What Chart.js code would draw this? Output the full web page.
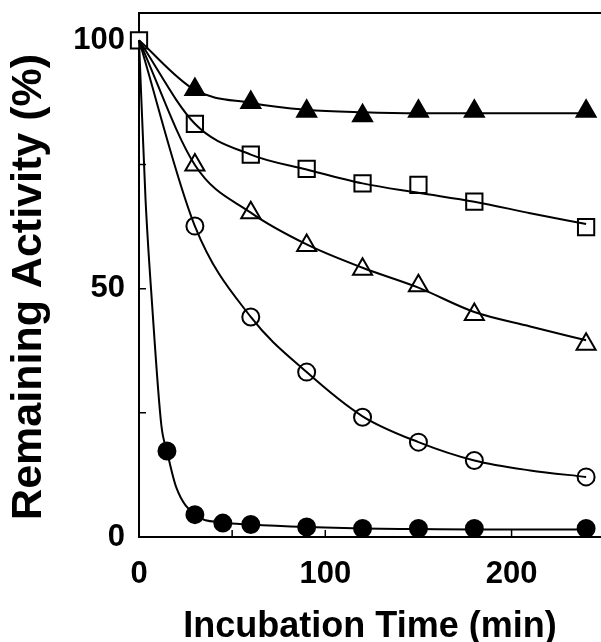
<!DOCTYPE html>
<html>
<head>
<meta charset="utf-8">
<script src="https://cdn.jsdelivr.net/npm/chart.js@4/dist/chart.umd.min.js"></script>
<style>
  html, body { margin: 0; padding: 0; background: #fff; overflow: hidden; }
  #wrap { width: 601px; height: 642px; }
  canvas { display: block; }
</style>
</head>
<body>
<div id="wrap"><canvas id="cv" width="601" height="642"></canvas></div>
<script>
const TIMES        = [0, 30, 60, 90, 120, 150, 180, 240];
const TIMES_FAST   = [0, 15, 30, 45, 60, 90, 120, 150, 180, 240];

const FILLED_TRI   = [100, 90.1, 87.5, 85.7, 84.8, 85.7, 85.7, 85.7];
const OPEN_SQUARE  = [100, 83.2, 77.0, 74.1, 71.2, 70.9, 67.5, 62.4];
const OPEN_TRI     = [100, 74.9, 65.3, 58.7, 53.9, 50.6, 44.8, 38.8];
const OPEN_CIRCLE  = [100, 62.6, 44.3, 33.2, 24.1, 19.1, 15.4, 12.1];
const FILLED_CIRC  = [100, 17.3, 4.5, 2.8, 2.5, 2.0, 1.7, 1.7, 1.7, 1.7];

// ── FITTED CURVES (line positions) ──
const CURVE_T      = [0, 30, 60, 90, 120, 150, 180, 210, 240];
const CURVE_F_TRI  = [100, 90.0, 87.4, 86.0, 85.5, 85.3, 85.3, 85.3, 85.3];
const CURVE_SQUARE = [100, 83.2, 77.0, 74.0, 71.2, 69.3, 67.5, 65.2, 63.0];
const CURVE_O_TRI  = [100, 74.9, 65.3, 58.9, 54.2, 50.2, 45.3, 42.4, 39.6];
const CURVE_O_CIRC = [100, 62.6, 44.3, 33.2, 24.3, 19.1, 15.4, 13.4, 12.1];
const CURVE_FAST_T = [0, 3.5, 7, 12, 15, 20, 30, 45, 60, 90, 120, 150, 180, 240];
const CURVE_F_CIRC = [100, 68, 47, 22.5, 17.3, 10, 4.5, 2.9, 2.5, 2.0, 1.7, 1.6, 1.5, 1.5];

const X_TICKS      = [0, 100, 200];
const Y_TICKS      = [0, 50, 100];
const X_MINOR      = [50, 100, 150, 200];
const Y_MINOR      = [25, 50, 75, 100];

const X_TITLE = 'Incubation Time (min)';
const Y_TITLE = 'Remaining Activity (%)  '; // trailing spaces nudge it down like the original

const FONT = '"Liberation Sans", Arial, Helvetica, sans-serif';

const pts = (xs, ys) => xs.map((x, i) => ({ x, y: ys[i] }));

function curve(xs, ys) {
  return {
    data: pts(xs, ys),
    borderColor: '#000',
    borderWidth: 2,
    cubicInterpolationMode: 'monotone',
    pointRadius: 0,
    pointHoverRadius: 0,
    clip: false,
  };
}

// markers only; t=0 marker hidden except for the square
function markers(xs, ys, style, r, fill, showFirst) {
  const rad = ctx => (ctx.dataIndex === 0 && !showFirst) ? 0 : r;
  return {
    data: pts(xs, ys),
    showLine: false,
    pointStyle: style,
    pointRadius: rad,
    pointHoverRadius: rad,
    pointBackgroundColor: fill,
    pointBorderColor: '#000',
    pointBorderWidth: 2,
    clip: false,
  };
}

// ── FRAME + INWARD TICKS ──
const framePlugin = {
  id: 'frame',
  beforeDatasetsDraw(chart) {
    const { ctx, chartArea: a, scales: { x, y } } = chart;
    ctx.save();
    ctx.strokeStyle = '#000';
    ctx.lineWidth = 2;
    ctx.beginPath();
    ctx.moveTo(a.right, a.top);
    ctx.lineTo(a.left, a.top);
    ctx.lineTo(a.left, a.bottom);
    ctx.lineTo(a.right, a.bottom);
    ctx.stroke();
    ctx.lineWidth = 1.5;
    ctx.beginPath();
    X_MINOR.forEach(v => {
      const px = x.getPixelForValue(v);
      ctx.moveTo(px, a.bottom);
      ctx.lineTo(px, a.bottom - 7);
    });
    Y_MINOR.forEach(v => {
      const py = y.getPixelForValue(v);
      ctx.moveTo(a.left, py);
      ctx.lineTo(a.left + 7, py);
    });
    ctx.stroke();
    ctx.restore();
  }
};

new Chart(document.getElementById('cv'), {
  type: 'line',
  data: {
    datasets: [
      curve(CURVE_FAST_T, CURVE_F_CIRC),
      curve(CURVE_T, CURVE_O_CIRC),
      curve(CURVE_T, CURVE_O_TRI),
      curve(CURVE_T, CURVE_SQUARE),
      curve(CURVE_T, CURVE_F_TRI),
      markers(TIMES_FAST, FILLED_CIRC, 'circle', 8.5, '#000', false),
      markers(TIMES, OPEN_CIRCLE, 'circle', 8.5, '#fff', false),
      markers(TIMES, OPEN_TRI, 'triangle', 11, '#fff', false),
      markers(TIMES, FILLED_TRI, 'triangle', 11, '#000', false),
      markers(TIMES, OPEN_SQUARE, 'rect', 11.5, '#fff', true),
    ]
  },
  options: {
    responsive: false,
    animation: false,
    devicePixelRatio: 1,
    layout: { autoPadding: false, padding: { top: 13, right: 0, bottom: 0, left: 0 } },
    plugins: { legend: { display: false }, tooltip: { enabled: false } },
    scales: {
      x: {
        type: 'linear',
        min: 0, max: 248,
        grid: { display: false, drawTicks: false },
        border: { display: false },
        afterBuildTicks: s => { s.ticks = X_TICKS.map(v => ({ value: v })); },
        afterFit: s => { s.height = 105; s.paddingLeft = 0; s.paddingRight = 0; },
        ticks: { color: '#000', padding: 22, maxRotation: 0,
                 font: { family: FONT, size: 31, weight: 'bold', lineHeight: 1 } },
        title: { display: true, text: X_TITLE, color: '#000', padding: { top: 0, bottom: -3 },
                 font: { family: FONT, size: 36, weight: 'bold', lineHeight: 1 } }
      },
      y: {
        type: 'linear',
        min: 0, max: 105.5,
        grid: { display: false, drawTicks: false },
        border: { display: false },
        afterBuildTicks: s => { s.ticks = Y_TICKS.map(v => ({ value: v })); },
        afterFit: s => { s.width = 139; s.paddingTop = 0; s.paddingBottom = 0; },
        ticks: { color: '#000', padding: 14,
                 font: { family: FONT, size: 31, weight: 'bold', lineHeight: 1 } },
        title: { display: true, text: Y_TITLE, color: '#000', padding: { top: 8, bottom: 0 },
                 font: { family: FONT, size: 43, weight: 'bold', lineHeight: 1 } }
      }
    }
  },
  plugins: [framePlugin]
});
</script>
</body>
</html>
